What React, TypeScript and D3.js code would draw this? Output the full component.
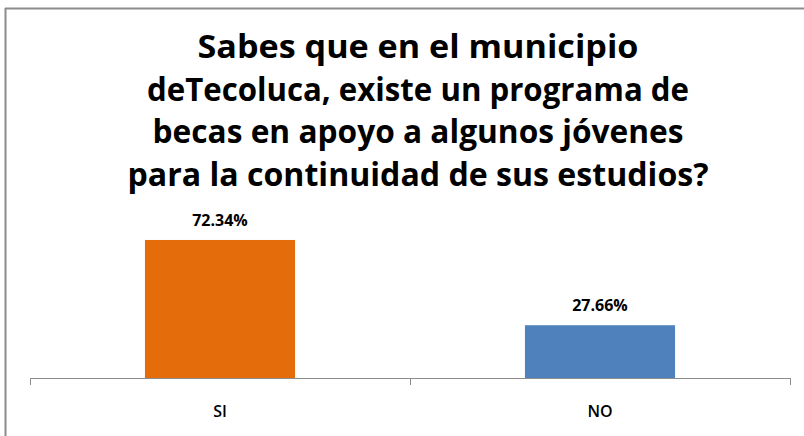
import React from "react";
import * as d3 from "d3";

const categories = ["SI", "NO"];
const values = [72.34, 27.66];
const valueLabels = ["72.34%", "27.66%"];
const colors = ["#E46C0A", "#4F81BD"];
const titleLines = [
  "Sabes que en el municipio",
  "deTecoluca, existe un programa de",
  "becas en apoyo a algunos jóvenes",
  "para la continuidad de sus estudios?",
];
const titleWidths = [441, 542, 531, 581];

export default function App() {
  const W = 804;
  const H = 436;
  const axisY = 378;
  const x = d3.scaleBand<string>().domain(categories).range([30, 790]).paddingInner(0.605).paddingOuter(0.3025);
  const y = d3.scaleLinear().domain([0, 80]).range([axisY, axisY - 80 * 1.908]);
  const font = "'Open Sans', 'Noto Sans', sans-serif";
  const tickXs = [30, ...categories.map((c) => (x(c) as number) + x.bandwidth() / 2 + x.step() / 2)];
  return (
    <svg width={W} height={H} style={{ position: "absolute", left: 0, top: 0 }}>
      <rect x={0} y={0} width={W} height={H} fill="#fff" />
      <line x1={5} x2={804} y1={8.5} y2={8.5} stroke="#8c8c8c" strokeWidth={2} />
      <line x1={5.5} x2={5.5} y1={8} y2={436} stroke="#8c8c8c" strokeWidth={2} />
      {titleLines.map((t, i) => (
        <text
          key={i}
          x={418}
          y={58 + i * 42.7}
          textAnchor="middle"
          fontFamily={font}
          fontWeight="bold"
          fontSize={32}
          textLength={titleWidths[i]}
          lengthAdjust="spacingAndGlyphs"
          fill="#000"
        >
          {t}
        </text>
      ))}
      {categories.map((c, i) => (
        <g key={c}>
          <rect x={x(c)} y={y(values[i])} width={x.bandwidth()} height={axisY - y(values[i])} fill={colors[i]} />
          <text
            x={(x(c) as number) + x.bandwidth() / 2}
            y={y(values[i]) - 14}
            textAnchor="middle"
            fontFamily={font}
            fontWeight="bold"
            fontSize={16}
            fill="#000"
          >
            {valueLabels[i]}
          </text>
          <text
            x={(x(c) as number) + x.bandwidth() / 2}
            y={417}
            textAnchor="middle"
            fontFamily={font}
            fontWeight={600}
            fontSize={16}
            fill="#000"
          >
            {c}
          </text>
        </g>
      ))}
      <line x1={30} x2={790} y1={axisY + 0.5} y2={axisY + 0.5} stroke="#8c8c8c" strokeWidth={1} />
      {tickXs.map((tx, i) => (
        <line key={i} x1={Math.round(tx) + 0.5} x2={Math.round(tx) + 0.5} y1={axisY} y2={axisY + 7} stroke="#8c8c8c" strokeWidth={1} />
      ))}
    </svg>
  );
}
